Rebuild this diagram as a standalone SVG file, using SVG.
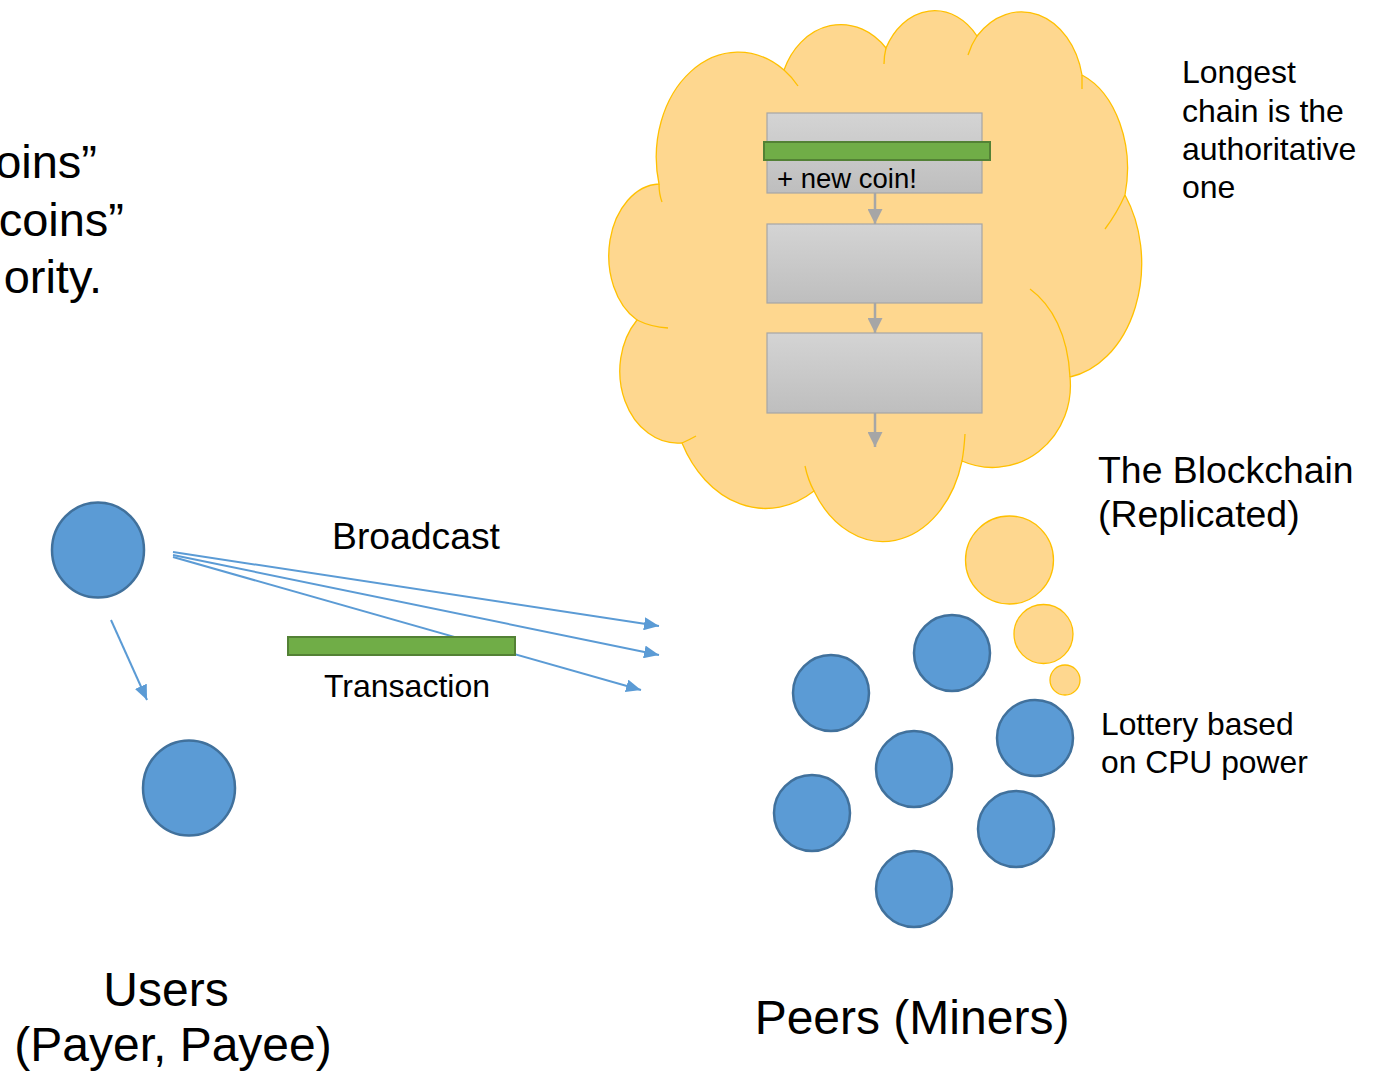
<svg xmlns="http://www.w3.org/2000/svg" width="1373" height="1072" viewBox="0 0 1373 1072">
  <style>
    text { font-family: "Liberation Sans", Arial, sans-serif; fill: #000; }
    .peer { fill: #5B9BD5; stroke: #41719C; stroke-width: 2.5; }
    .bubble { fill: #FED78F; stroke: #FFC000; stroke-width: 1.3; }
    .tail { fill: none; stroke: #FFC000; stroke-width: 1.3; }
    .block { fill: url(#blockGrad); stroke: #A6A6A6; stroke-width: 1.2; }
    .tx { fill: #70AD47; stroke: #538135; stroke-width: 2; }
    .flow { stroke: #5B9BD5; stroke-width: 2; fill: none; marker-end: url(#blueHead); }
    .link { stroke: #A6A6A6; stroke-width: 2.5; fill: none; marker-end: url(#greyHead); }
  </style>
  <defs>
    <linearGradient id="blockGrad" x1="0" y1="0" x2="0" y2="1">
      <stop offset="0" stop-color="#D4D4D4"/>
      <stop offset="1" stop-color="#BEBEBE"/>
    </linearGradient>
    <marker id="blueHead" markerUnits="userSpaceOnUse" markerWidth="15" markerHeight="13" refX="15" refY="6.5" orient="auto">
      <path d="M0,0 L15,6.5 L0,13 z" fill="#5B9BD5"/>
    </marker>
    <marker id="greyHead" markerUnits="userSpaceOnUse" markerWidth="15" markerHeight="15" refX="15" refY="7.5" orient="auto">
      <path d="M0,0 L15,7.5 L0,15 z" fill="#A6A6A6"/>
    </marker>
  </defs>

  <rect width="1373" height="1072" fill="#FFFFFF"/>

  <!-- slide text running in from the left edge -->
  <g id="intro-text" font-size="47">
    <text x="97" y="178" text-anchor="end">oins”</text>
    <text x="124" y="236" text-anchor="end">coins”</text>
    <text x="102" y="293" text-anchor="end">ority.</text>
  </g>

  <!-- replicated blockchain: thought cloud -->
  <g id="blockchain-cloud">
    <path class="bubble" d="M659,184
      A82,105 0 0 1 784,70
      A62,75 0 0 1 886,48
      A55,70 0 0 1 977,36
      A62,80 0 0 1 1082,75
      A70,100 0 0 1 1125,195
      A85,115 0 0 1 1070,377
      A78,82 0 0 1 962,461
      A82,110 0 0 1 814,491
      A95,125 0 0 1 682,443
      A58,72 0 0 1 637,320
      A52,72 0 0 1 659,184 Z"/>
    <path class="tail" d="M659,184 Q659,194 662,202
      M784,70 Q792,77 798,86
      M886,48 Q884,56 884,64
      M977,36 Q971,45 968,55
      M1082,75 L1082,89
      M1125,195 Q1117,213 1105,229
      M1030,289 C1052,305 1068,335 1070,377
      M965,434 Q964,450 962,461
      M805,466 Q808,480 814,491
      M696,436 Q689,440 682,443
      M668,328 Q651,327 637,320"/>
  </g>
  <g id="thought-bubbles">
    <ellipse class="bubble" cx="1009.5" cy="560" rx="44" ry="44"/>
    <ellipse class="bubble" cx="1043.5" cy="634" rx="29.5" ry="29.5"/>
    <ellipse class="bubble" cx="1065" cy="680" rx="15" ry="15"/>
  </g>

  <!-- chain of blocks -->
  <g id="block-1">
    <rect class="block" x="767" y="113" width="215" height="80"/>
    <rect class="tx" x="764" y="142" width="226" height="18"/>
    <text x="777" y="188" font-size="27.5">+ new coin!</text>
  </g>
  <g id="block-2">
    <rect class="block" x="767" y="224" width="215" height="79"/>
  </g>
  <g id="block-3">
    <rect class="block" x="767" y="333" width="215" height="80"/>
  </g>

  <!-- users -->
  <g id="payer"><ellipse class="peer" cx="98" cy="550" rx="46" ry="47.5"/></g>
  <g id="payee"><ellipse class="peer" cx="189" cy="788" rx="46" ry="47.5"/></g>

  <!-- connectors -->
  <g id="connectors">
    <line class="link" x1="875" y1="193" x2="875" y2="224"/>
    <line class="link" x1="875" y1="303" x2="875" y2="333"/>
    <line class="link" x1="875" y1="413" x2="875" y2="447"/>
    <line class="flow" x1="111" y1="620" x2="147" y2="700"/>
    <line class="flow" x1="173" y1="552" x2="659" y2="626"/>
    <line class="flow" x1="173" y1="555" x2="659" y2="655"/>
    <line class="flow" x1="173" y1="557" x2="641" y2="690"/>
  </g>

  <!-- transaction in flight -->
  <g id="transaction">
    <rect class="tx" x="288" y="637" width="227" height="18"/>
    <text x="407" y="697" font-size="32" text-anchor="middle">Transaction</text>
  </g>
  <g id="broadcast-label">
    <text x="416" y="549" font-size="37.3" text-anchor="middle">Broadcast</text>
  </g>

  <!-- peers / miners -->
  <g id="peer-a"><circle class="peer" cx="952" cy="653" r="38"/></g>
  <g id="peer-b"><circle class="peer" cx="831" cy="693" r="38"/></g>
  <g id="peer-c"><circle class="peer" cx="1035" cy="738" r="38"/></g>
  <g id="peer-d"><circle class="peer" cx="914" cy="769" r="38"/></g>
  <g id="peer-e"><circle class="peer" cx="812" cy="813" r="38"/></g>
  <g id="peer-f"><circle class="peer" cx="1016" cy="829" r="38"/></g>
  <g id="peer-g"><circle class="peer" cx="914" cy="889" r="38"/></g>

  <!-- labels -->
  <g id="chain-note" font-size="32">
    <text x="1182" y="83">Longest</text>
    <text x="1182" y="122">chain is the</text>
    <text x="1182" y="160">authoritative</text>
    <text x="1182" y="198">one</text>
  </g>
  <g id="blockchain-label" font-size="37.4">
    <text x="1098" y="483">The Blockchain</text>
    <text x="1098" y="527">(Replicated)</text>
  </g>
  <g id="lottery-label" font-size="31.8">
    <text x="1101" y="735">Lottery based</text>
    <text x="1101" y="773">on CPU power</text>
  </g>
  <g id="users-label" font-size="48" text-anchor="middle">
    <text x="166" y="1006">Users</text>
    <text x="173" y="1061">(Payer, Payee)</text>
  </g>
  <g id="peers-label">
    <text x="912" y="1034" font-size="48" text-anchor="middle">Peers (Miners)</text>
  </g>
</svg>
